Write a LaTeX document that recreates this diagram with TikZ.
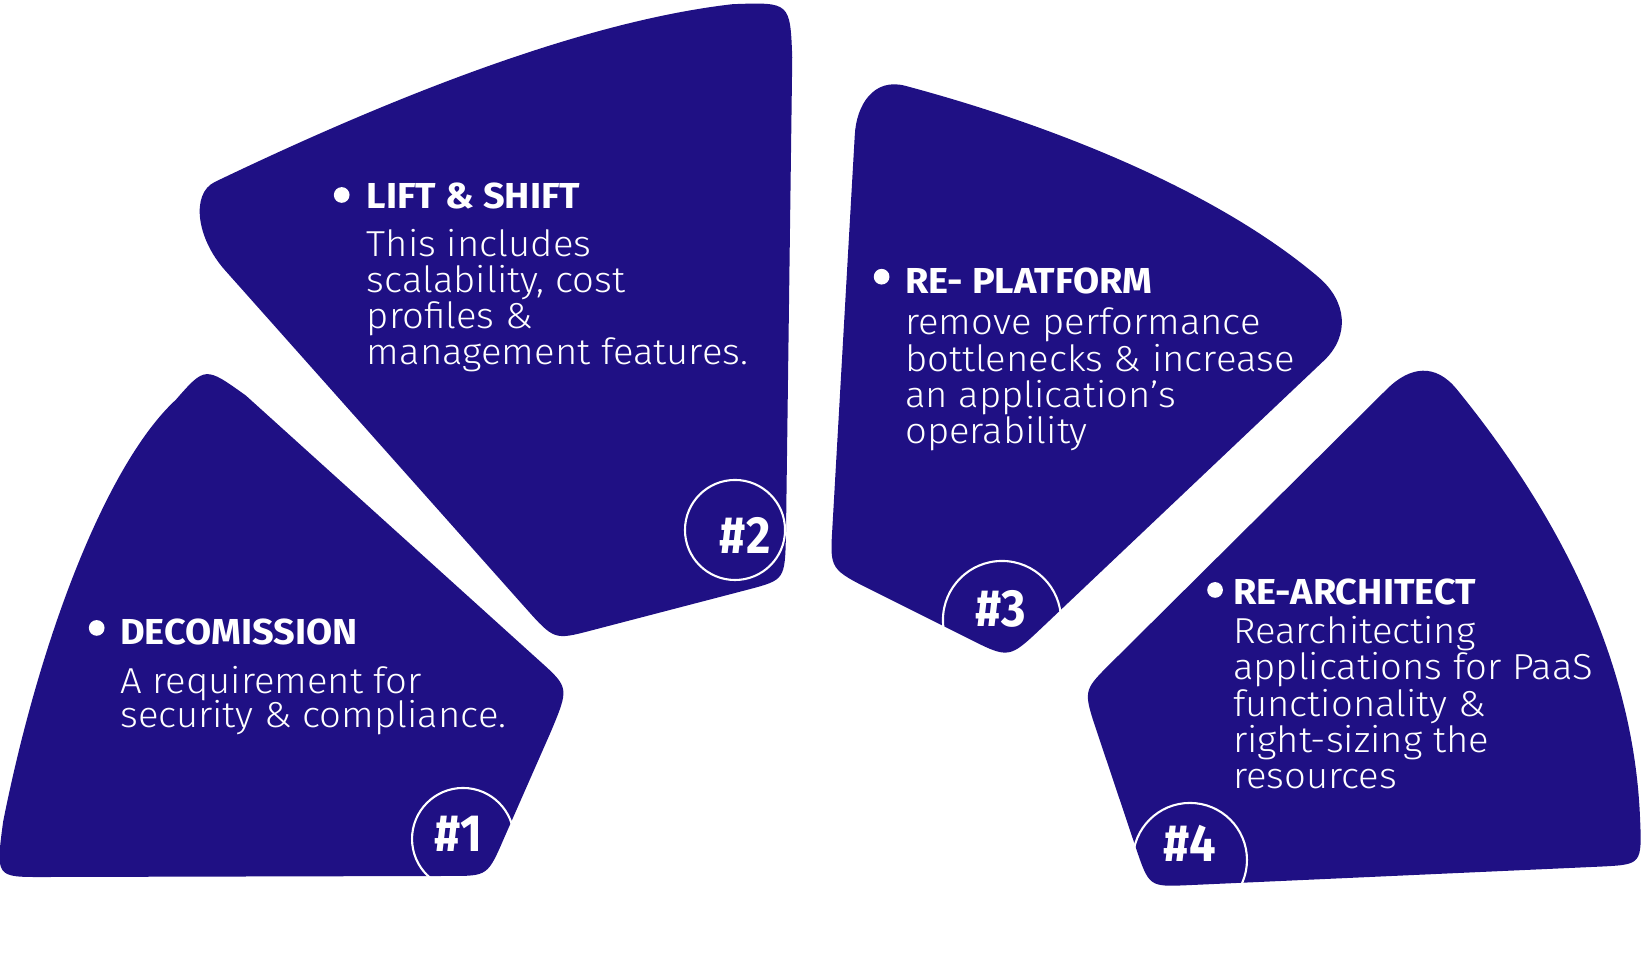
\documentclass[tikz,border=0pt]{standalone}
\usepackage{fontspec}
\newfontfamily\bodyf{Fira Sans Light}[FakeStretch=1.06]
\newfontfamily\headf{Fira Sans Bold}[FakeStretch=1.05]
\newfontfamily\numf{Fira Sans Bold}[FakeStretch=0.9]
\definecolor{navy}{HTML}{1F1084}
\tikzset{
  body/.style={font=\bodyf\fontsize{34.5}{34.5}\selectfont, text=white, inner sep=0pt, anchor=base west},
  head/.style={font=\headf\fontsize{34.5}{34.5}\selectfont, text=white, inner sep=0pt, anchor=base west},
  num/.style={font=\numf\fontsize{50}{50}\selectfont, text=white, inner sep=0pt},
  bul/.style={circle, fill=white, minimum size=15pt, inner sep=0pt},
  ring/.style={circle, draw=white, line width=2pt, inner sep=0pt},
  petal/.style={fill=navy}
}
\begin{document}
\begin{tikzpicture}[x=1pt, y=-1pt]
\useasboundingbox (0,0) rectangle (1568,920);
% shape 1
\fill[petal] (3,785) .. controls (40,600) and (105,440) .. (168,382)
  .. controls (196,350) and (196,350) .. (235,378)
  -- (515,631)
  .. controls (544,657) and (544,657) .. (526,700)
  -- (482,800)
  .. controls (466,837) and (466,837) .. (430,837)
  -- (40,838)
  .. controls (-4,838) and (-4,838) .. (3,785) -- cycle;
% shape 2
\fill[petal] (205,174) .. controls (380,90) and (560,20) .. (700,4)
  .. controls (755,2) and (755,2) .. (757,55)
  -- (751,510)
  .. controls (750,554) and (750,554) .. (715,563.3)
  -- (565,602.4)
  .. controls (529.5,611.7) and (529.5,611.7) .. (501.3,580)
  -- (214.8,258)
  .. controls (187.4,227) and (182.5,185.2) .. (205,174) -- cycle;
% shape 3
\fill[petal] (865,82) .. controls (1000,118) and (1160,180) .. (1260,265)
  .. controls (1286.7,287.7) and (1290.4,320.5) .. (1265,344.6)
  -- (995,600.3)
  .. controls (964,629.5) and (964,629.5) .. (925,610)
  -- (835,565)
  .. controls (793,544) and (793,544) .. (795.3,505)
  -- (816.7,130)
  .. controls (818,100) and (835,74) .. (865,82) -- cycle;
% shape 4
\fill[petal] (1392,372) .. controls (1480,480) and (1560,620) .. (1567,780)
  .. controls (1569,826) and (1569,826) .. (1530,828)
  -- (1135,845.8)
  .. controls (1098,847.4) and (1098,847.4) .. (1085.3,810)
  -- (1048.4,700)
  .. controls (1035,660) and (1035,660) .. (1060,635)
  -- (1325,372)
  .. controls (1347.7,349.4) and (1371.8,347.2) .. (1392,372) -- cycle;

% rings
\node[ring, minimum size=97.4pt] (r1) at (442.4,801.6) {};
\node[ring, minimum size=95.6pt] (r2) at (702.3,506.4) {};
\node[ring, minimum size=112.8pt] (r3) at (957.4,592.4) {};
\node[ring, minimum size=109pt] (r4) at (1137,821.7) {};
\node[num] (n1) at (438,797) {\#1};
\node[num] (n2) at (712,512) {\#2};
\node[num] (n3) at (956,582) {\#3};
\node[num] (n4) at (1137,806) {\#4};

% bullets
\node[bul] (b1) at (92.4,600) {};
\node[bul] (b2) at (326.5,186.3) {};
\node[bul] (b3) at (842.4,264.4) {};
\node[bul] (b4) at (1161,563.7) {};

% block 1
\node[head] (h1) at (114.7,616.3) {DECOMISSION};
\node[body] (t1a) at (114.7,663) {A requirement for};
\node[body] (t1b) at (114.7,695.5) {security \& compliance.};
% block 2
\node[head] (h2) at (350.4,199) {LIFT \& SHIFT};
\node[body] (t2a) at (350.4,245.3) {This includes};
\node[body] (t2b) at (350.4,279.7) {scalability, cost};
\node[body] (t2c) at (350.4,314.1) {profiles \&};
\node[body] (t2d) at (350.4,348.5) {management features.};
% block 3
\node[head] (h3) at (864.7,280) {RE- PLATFORM};
\node[body] (t3a) at (864.7,320) {remove performance};
\node[body] (t3b) at (864.7,354.5) {bottlenecks \& increase};
\node[body] (t3c) at (864.7,389) {an application’s};
\node[body] (t3d) at (864.7,423.5) {operability};
% block 4
\node[head] (h4) at (1178,578) {RE-ARCHITECT};
\node[body] (t4a) at (1178,614.7) {Rearchitecting};
\node[body] (t4b) at (1178,649.5) {applications for PaaS};
\node[body] (t4c) at (1178,684.3) {functionality \&};
\node[body] (t4d) at (1178,719) {right-sizing the};
\node[body] (t4e) at (1178,753.7) {resources};
\end{tikzpicture}
\end{document}
